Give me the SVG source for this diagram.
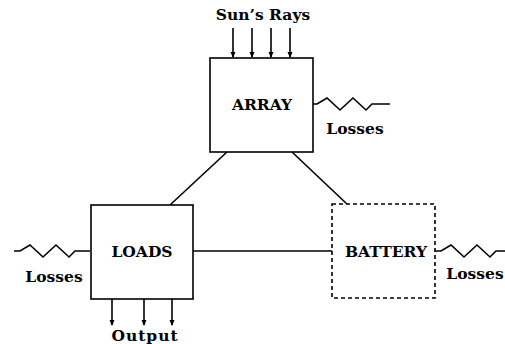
<svg xmlns="http://www.w3.org/2000/svg" width="505" height="344" viewBox="0 0 505 344">
<style>
.box{fill:#fff;stroke:#000;stroke-width:1.6}
.dash{stroke-dasharray:4 3}
.ln{fill:none;stroke:#000;stroke-width:1.6}
.t{font-family:"DejaVu Serif","Liberation Serif",serif;font-weight:bold;font-size:15.5px;fill:#000;text-anchor:middle}
</style>
<defs>
<marker id="ah" markerWidth="6" markerHeight="6" refX="5" refY="3" orient="auto" markerUnits="userSpaceOnUse">
<path d="M0,0.5 L6,3 L0,5.5 Z" fill="#000"/>
</marker>
</defs>
<g id="connectors">
<line class="ln" x1="227" y1="152" x2="170" y2="205"/>
<line class="ln" x1="292" y1="152" x2="348" y2="205"/>
<line class="ln" x1="193" y1="251" x2="332" y2="251"/>
<line class="ln" x1="233" y1="28" x2="233" y2="57" marker-end="url(#ah)"/>
<line class="ln" x1="252" y1="28" x2="252" y2="57" marker-end="url(#ah)"/>
<line class="ln" x1="271" y1="28" x2="271" y2="57" marker-end="url(#ah)"/>
<line class="ln" x1="290" y1="28" x2="290" y2="57" marker-end="url(#ah)"/>
<line class="ln" x1="112" y1="299" x2="112" y2="325" marker-end="url(#ah)"/>
<line class="ln" x1="144" y1="299" x2="144" y2="325" marker-end="url(#ah)"/>
<line class="ln" x1="172" y1="299" x2="172" y2="325" marker-end="url(#ah)"/>
<polyline class="ln" points="313,104 317,104 327,98 340,110 353,98 366,110 372,104 390,104"/>
<polyline class="ln" points="14,251 20,251 30,245 43,257 56,245 69,257 75,251 90,251"/>
<polyline class="ln" points="435,251 441,251 451,245 464,257 477,245 490,257 496,251 505,251"/>
</g>
<g id="array">
<rect class="box" x="210" y="58" width="103" height="94"/>
<text class="t" x="262" y="110">ARRAY</text>
</g>
<g id="loads">
<rect class="box" x="91" y="205" width="102" height="94"/>
<text class="t" x="142" y="257">LOADS</text>
</g>
<g id="battery">
<rect class="box dash" x="332" y="204" width="103" height="94"/>
<text class="t" x="386" y="257">BATTERY</text>
</g>
<g id="labels">
<text class="t" x="263" y="20">Sun’s Rays</text>
<text class="t" x="355" y="134">Losses</text>
<text class="t" x="54" y="282">Losses</text>
<text class="t" x="475" y="279">Losses</text>
<text class="t" x="145" y="341" letter-spacing="1">Output</text>
</g>
</svg>
